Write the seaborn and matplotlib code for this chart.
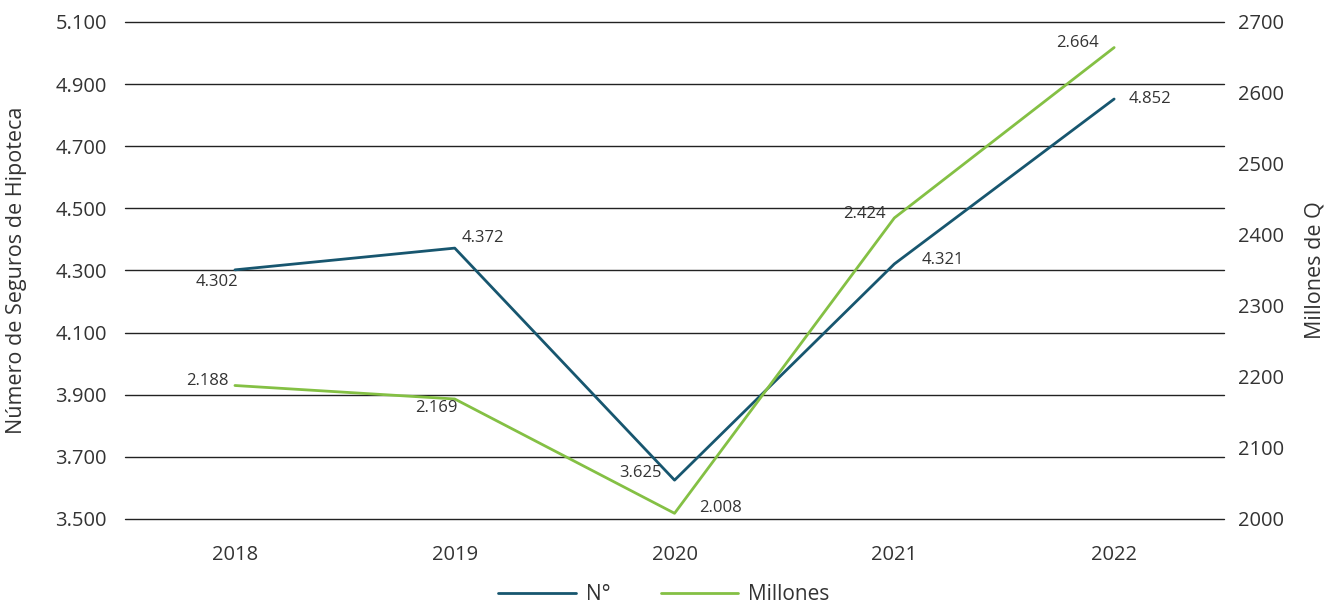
import matplotlib
matplotlib.use("Agg")
import matplotlib.pyplot as plt
import seaborn as sns
import pandas as pd
from matplotlib.ticker import FuncFormatter
from matplotlib.lines import Line2D

years = ["2018", "2019", "2020", "2021", "2022"]
numero = [4302, 4372, 3625, 4321, 4852]
millones = [2188, 2169, 2008, 2424, 2664]
left_ticks = [3500, 3700, 3900, 4100, 4300, 4500, 4700, 4900, 5100]
right_ticks = [2000, 2100, 2200, 2300, 2400, 2500, 2600, 2700]

BLUE = "#17566f"
GREEN = "#84c044"
TEXT = "#333333"

sns.set_theme(style="white")
plt.rcParams["font.family"] = ["Open Sans", "DejaVu Sans"]

df = pd.DataFrame({"x": range(len(years)), "numero": numero, "millones": millones})

fig = plt.figure(figsize=(13.36, 6.07), dpi=100)
ax = fig.add_axes([0.0936, 0.145, 0.8226, 0.8188])
ax2 = ax.twinx()

sns.lineplot(data=df, x="x", y="numero", ax=ax, color=BLUE, linewidth=2.0)
sns.lineplot(data=df, x="x", y="millones", ax=ax2, color=GREEN, linewidth=2.0)

ax.set_xlim(-0.5, 4.5)
ax.set_ylim(left_ticks[0], left_ticks[-1])
ax.set_yticks(left_ticks)
ax.yaxis.set_major_formatter(FuncFormatter(lambda v, p: f"{int(v):,}".replace(",", ".")))
ax2.set_ylim(right_ticks[0], right_ticks[-1])
ax2.set_yticks(right_ticks)
ax2.yaxis.set_major_formatter(FuncFormatter(lambda v, p: f"{int(v)}"))

ax.set_xticks(range(len(years)))
ax.set_xticklabels(years)
ax.grid(axis="y", color="#222222", linewidth=1.0)
ax.grid(axis="x", visible=False)
ax.set_axisbelow(True)
for gl in ax.get_ygridlines():
    gl.set_clip_on(False)

for a in (ax, ax2):
    for s in a.spines.values():
        s.set_visible(False)
    a.tick_params(axis="both", length=0, labelsize=14.5, colors=TEXT)
ax.tick_params(axis="y", pad=13)
ax2.tick_params(axis="y", pad=10)
ax.tick_params(axis="x", pad=19)

ax.set_xlabel("")
ax.set_ylabel("Número de Seguros de Hipoteca", fontsize=15.5, color=TEXT)
ax2.set_ylabel("Millones de Q", fontsize=15.5, color=TEXT)
ax.yaxis.set_label_coords(-0.089, 0.5)
ax2.yaxis.set_label_coords(1.073, 0.5)

fmt = lambda v: f"{v:,}".replace(",", ".")

# value labels, offsets in pixels
num_off = [(-18, -12), (28, 10), (-34, 7), (48, 4), (36, 0)]
mil_off = [(-28, 5), (-18, -9), (46, 5), (-30, 4), (-37, 5)]
for i, v in enumerate(numero):
    ax.annotate(fmt(v), (i, v), xytext=num_off[i], textcoords="offset pixels",
                ha="center", va="center", fontsize=12, color=TEXT)
for i, v in enumerate(millones):
    ax2.annotate(fmt(v), (i, v), xytext=mil_off[i], textcoords="offset pixels",
                 ha="center", va="center", fontsize=12, color=TEXT)

handles = [Line2D([], [], color=BLUE, linewidth=2.0),
           Line2D([], [], color=GREEN, linewidth=2.0)]
leg = fig.legend(handles, ["N°", "Millones"], loc="center", bbox_to_anchor=(0.497, 0.02),
                 ncol=2, frameon=False, fontsize=15, handlelength=3.7, columnspacing=2.4,
                 handletextpad=0.5)
for t in leg.get_texts():
    t.set_color(TEXT)

fig.savefig("out.png", dpi=100)
